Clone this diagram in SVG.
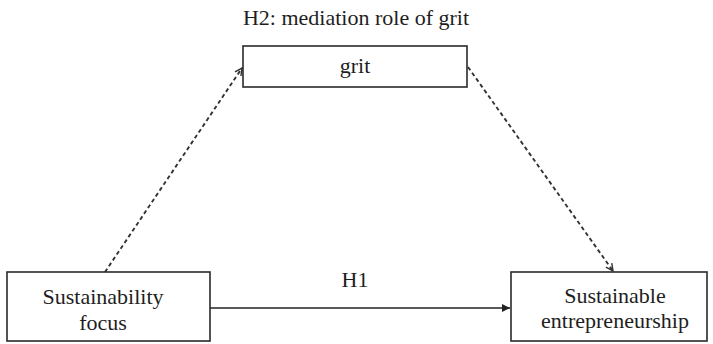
<svg xmlns="http://www.w3.org/2000/svg" width="713" height="344" viewBox="0 0 713 344">
  <style>
    .box { fill: #ffffff; stroke: #2a2a2a; stroke-width: 1.6; }
    .lbl { font-family: "Liberation Serif", "Times New Roman", serif; font-size: 22px; fill: #1e1e1e; text-anchor: middle; }
    .solid { stroke: #222; stroke-width: 1.6; fill: none; }
    .dash { stroke: #333; stroke-width: 1.9; fill: none; stroke-dasharray: 4 3; }
  </style>
  <defs>
    <marker id="fillArrow" viewBox="0 0 10 10" refX="10" refY="5" markerWidth="8" markerHeight="8" markerUnits="userSpaceOnUse" orient="auto">
      <path d="M0,0 L10,5 L0,10 z" fill="#222"/>
    </marker>
    <marker id="openArrow" viewBox="0 0 10 10" refX="9" refY="5" markerWidth="9" markerHeight="9" markerUnits="userSpaceOnUse" orient="auto">
      <path d="M1,1 L9,5 L1,9" fill="none" stroke="#333" stroke-width="1.6"/>
    </marker>
  </defs>

  <rect width="713" height="344" fill="#ffffff"/>

  <!-- hypothesis labels -->
  <text class="lbl" x="356" y="25">H2: mediation role of grit</text>
  <text class="lbl" x="355" y="287">H1</text>

  <g id="connectors">
    <line class="solid" x1="210" y1="308" x2="510" y2="308" marker-end="url(#fillArrow)"/>
    <line class="dash" x1="105" y1="272" x2="242" y2="68" marker-end="url(#openArrow)"/>
    <line class="dash" x1="468" y1="67" x2="613" y2="271" marker-end="url(#openArrow)"/>
  </g>

  <g id="grit">
    <rect class="box" x="243" y="46" width="224" height="41"/>
    <text class="lbl" x="355" y="73">grit</text>
  </g>

  <g id="sustainability-focus">
    <rect class="box" x="7" y="272" width="203" height="69"/>
    <text class="lbl" x="103" y="304">Sustainability</text>
    <text class="lbl" x="103" y="330">focus</text>
  </g>

  <g id="sustainable-entrepreneurship">
    <rect class="box" x="511" y="272" width="196" height="69"/>
    <text class="lbl" x="615" y="303">Sustainable</text>
    <text class="lbl" x="615" y="328">entrepreneurship</text>
  </g>
</svg>
